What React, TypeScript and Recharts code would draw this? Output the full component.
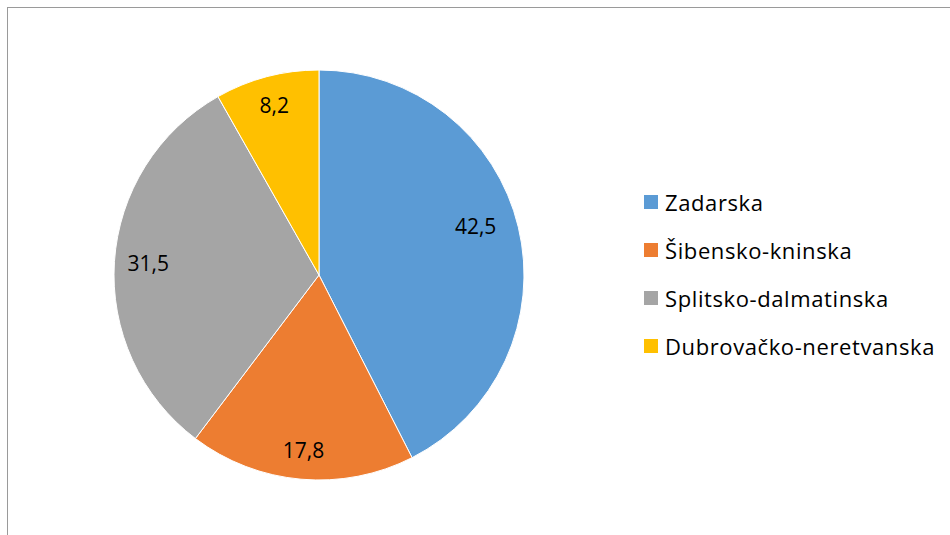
import { PieChart, Pie, Cell } from 'recharts'

const regions = ['Zadarska', 'Šibensko-kninska', 'Splitsko-dalmatinska', 'Dubrovačko-neretvanska']
const shares = [42.5, 17.8, 31.5, 8.2]
const colors = ['#5B9BD5', '#ED7D31', '#A5A5A5', '#FFC000']
// label placement: share of the radius, and a small turn (degrees) off the slice middle
const labelRadius = [0.8, 0.86, 0.835, 0.855]
const labelTurn = [3.7, 0, 0, 0]

const data = regions.map((name, i) => ({ name, value: shares[i] }))

const FONT = '"Open Sans", sans-serif'
const RAD = Math.PI / 180

function SliceLabel({ cx, cy, midAngle, outerRadius, value, index }: any) {
  const r = outerRadius * labelRadius[index]
  const a = (midAngle + labelTurn[index]) * RAD
  const x = cx + r * Math.cos(-a)
  const y = cy + r * Math.sin(-a)
  return (
    <text x={x} y={y + 7.5} fill="#000" fontSize={21} fontFamily={FONT} textAnchor="middle">
      {String(value).replace('.', ',')}
    </text>
  )
}

export default function App() {
  return (
    <div style={{ position: 'absolute', top: 0, left: 0, width: 950, height: 535, background: '#fff', overflow: 'hidden' }}>
      <div style={{ position: 'absolute', left: 7, top: 7, width: 960, height: 560, borderLeft: '1px solid #9a9a9a', borderTop: '1px solid #9a9a9a' }} />
      <div style={{ position: 'absolute', top: 0, left: 0 }}>
        <PieChart width={950} height={535} margin={{ top: 0, right: 0, bottom: 0, left: 0 }}>
          <Pie
            data={data}
            dataKey="value"
            nameKey="name"
            cx={319}
            cy={275}
            outerRadius={205}
            startAngle={90}
            endAngle={-270}
            stroke="#fff"
            strokeWidth={1}
            label={SliceLabel}
            labelLine={false}
            isAnimationActive={false}
          >
            {data.map((d, i) => (
              <Cell key={d.name} fill={colors[i]} />
            ))}
          </Pie>
        </PieChart>
      </div>
      <div style={{ position: 'absolute', left: 644, top: 178, fontFamily: FONT, fontSize: 22, letterSpacing: 0.6, color: '#000' }}>
        {regions.map((name, i) => (
          <div key={name} style={{ display: 'flex', alignItems: 'center', height: 48 }}>
            <span style={{ width: 14, height: 14, background: colors[i], marginRight: 7, display: 'inline-block' }} />
            <span>{name}</span>
          </div>
        ))}
      </div>
    </div>
  )
}
